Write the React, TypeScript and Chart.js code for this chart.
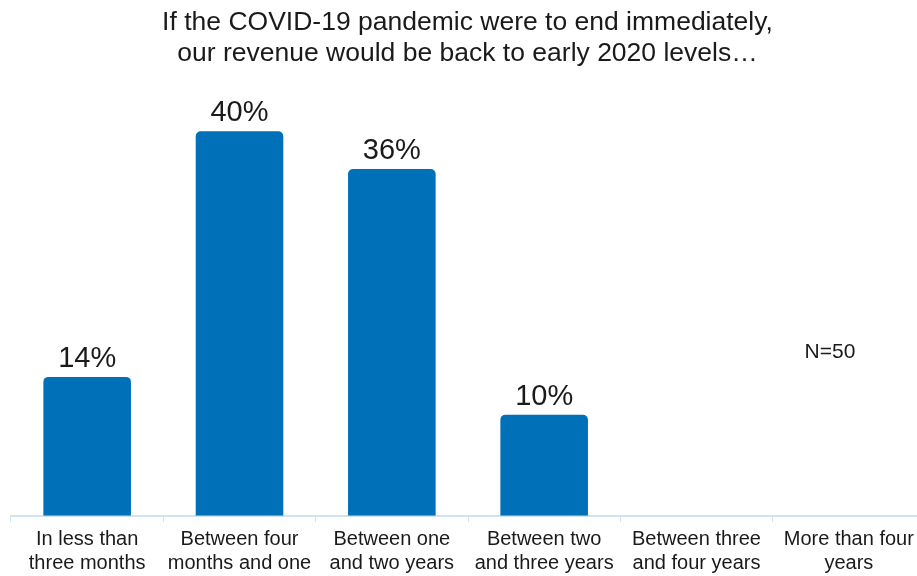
import React, { useEffect, useRef } from "react";
import { Chart, registerables } from "chart.js";

Chart.register(...registerables);

const titleLines = [
  "If the COVID-19 pandemic were to end immediately,",
  "our revenue would be back to early 2020 levels\u2026",
];
const categories: string[][] = [
  ["In less than", "three months"],
  ["Between four", "months and one"],
  ["Between one", "and two years"],
  ["Between two", "and three years"],
  ["Between three", "and four years"],
  ["More than four", "years"],
];
const values: (number | null)[] = [14, 40, 36, 10, null, null];
const noteText = "N=50";

const FONT = "'Liberation Sans', Arial, sans-serif";

const overlayPlugin = {
  id: "overlay",
  afterDatasetsDraw(chart: any) {
    const ctx = chart.ctx;
    ctx.save();
    ctx.fillStyle = "#1a1a1a";
    ctx.textAlign = "center";
    ctx.textBaseline = "alphabetic";
    // title
    ctx.font = `26.5px ${FONT}`;
    titleLines.forEach((l, i) => ctx.fillText(l, 467.5, 30 + i * 31));
    // data labels
    ctx.font = `29px ${FONT}`;
    const meta = chart.getDatasetMeta(0);
    meta.data.forEach((bar: any, i: number) => {
      const v = values[i];
      if (v == null) return;
      ctx.fillText(`${v}%`, bar.x, bar.y - 10);
    });
    // note
    ctx.font = `21px ${FONT}`;
    ctx.textBaseline = "middle";
    ctx.fillText(noteText, 830, 352);
    ctx.restore();
  },
};

export default function App() {
  const ref = useRef<HTMLCanvasElement>(null);
  useEffect(() => {
    const chart = new Chart(ref.current!, {
      type: "bar",
      data: {
        labels: categories,
        datasets: [
          {
            data: values,
            backgroundColor: "#0070b8",
            borderRadius: { topLeft: 5, topRight: 5, bottomLeft: 0, bottomRight: 0 },
            borderSkipped: "bottom",
            barPercentage: 0.575,
            categoryPercentage: 1,
            base: -0.7,
          },
        ],
      },
      options: {
        responsive: false,
        animation: false,
        layout: { padding: { left: 11, right: 0, top: 83, bottom: 0 } },
        plugins: {
          legend: { display: false },
          title: { display: false },
          tooltip: { enabled: false },
        },
        scales: {
          x: {
            grid: {
              offset: true,
              drawOnChartArea: false,
              drawTicks: true,
              tickLength: 6,
              color: "#cfe3f3",
            },
            border: { color: "#cfe3f3", width: 2 },
            ticks: {
              color: "#1a1a1a",
              font: { family: FONT, size: 20, lineHeight: 1.18 },
              padding: 6,
              maxRotation: 0,
              autoSkip: false,
            },
          },
          y: { display: false, min: -0.7, max: 45.1 },
        },
      },
      plugins: [overlayPlugin],
    });
    return () => chart.destroy();
  }, []);
  return (
    <div style={{ position: "absolute", left: 0, top: 0, width: 917, height: 576, overflow: "hidden", background: "#fff" }}>
      <canvas ref={ref} width={925} height={581} style={{ display: "block" }} />
    </div>
  );
}
